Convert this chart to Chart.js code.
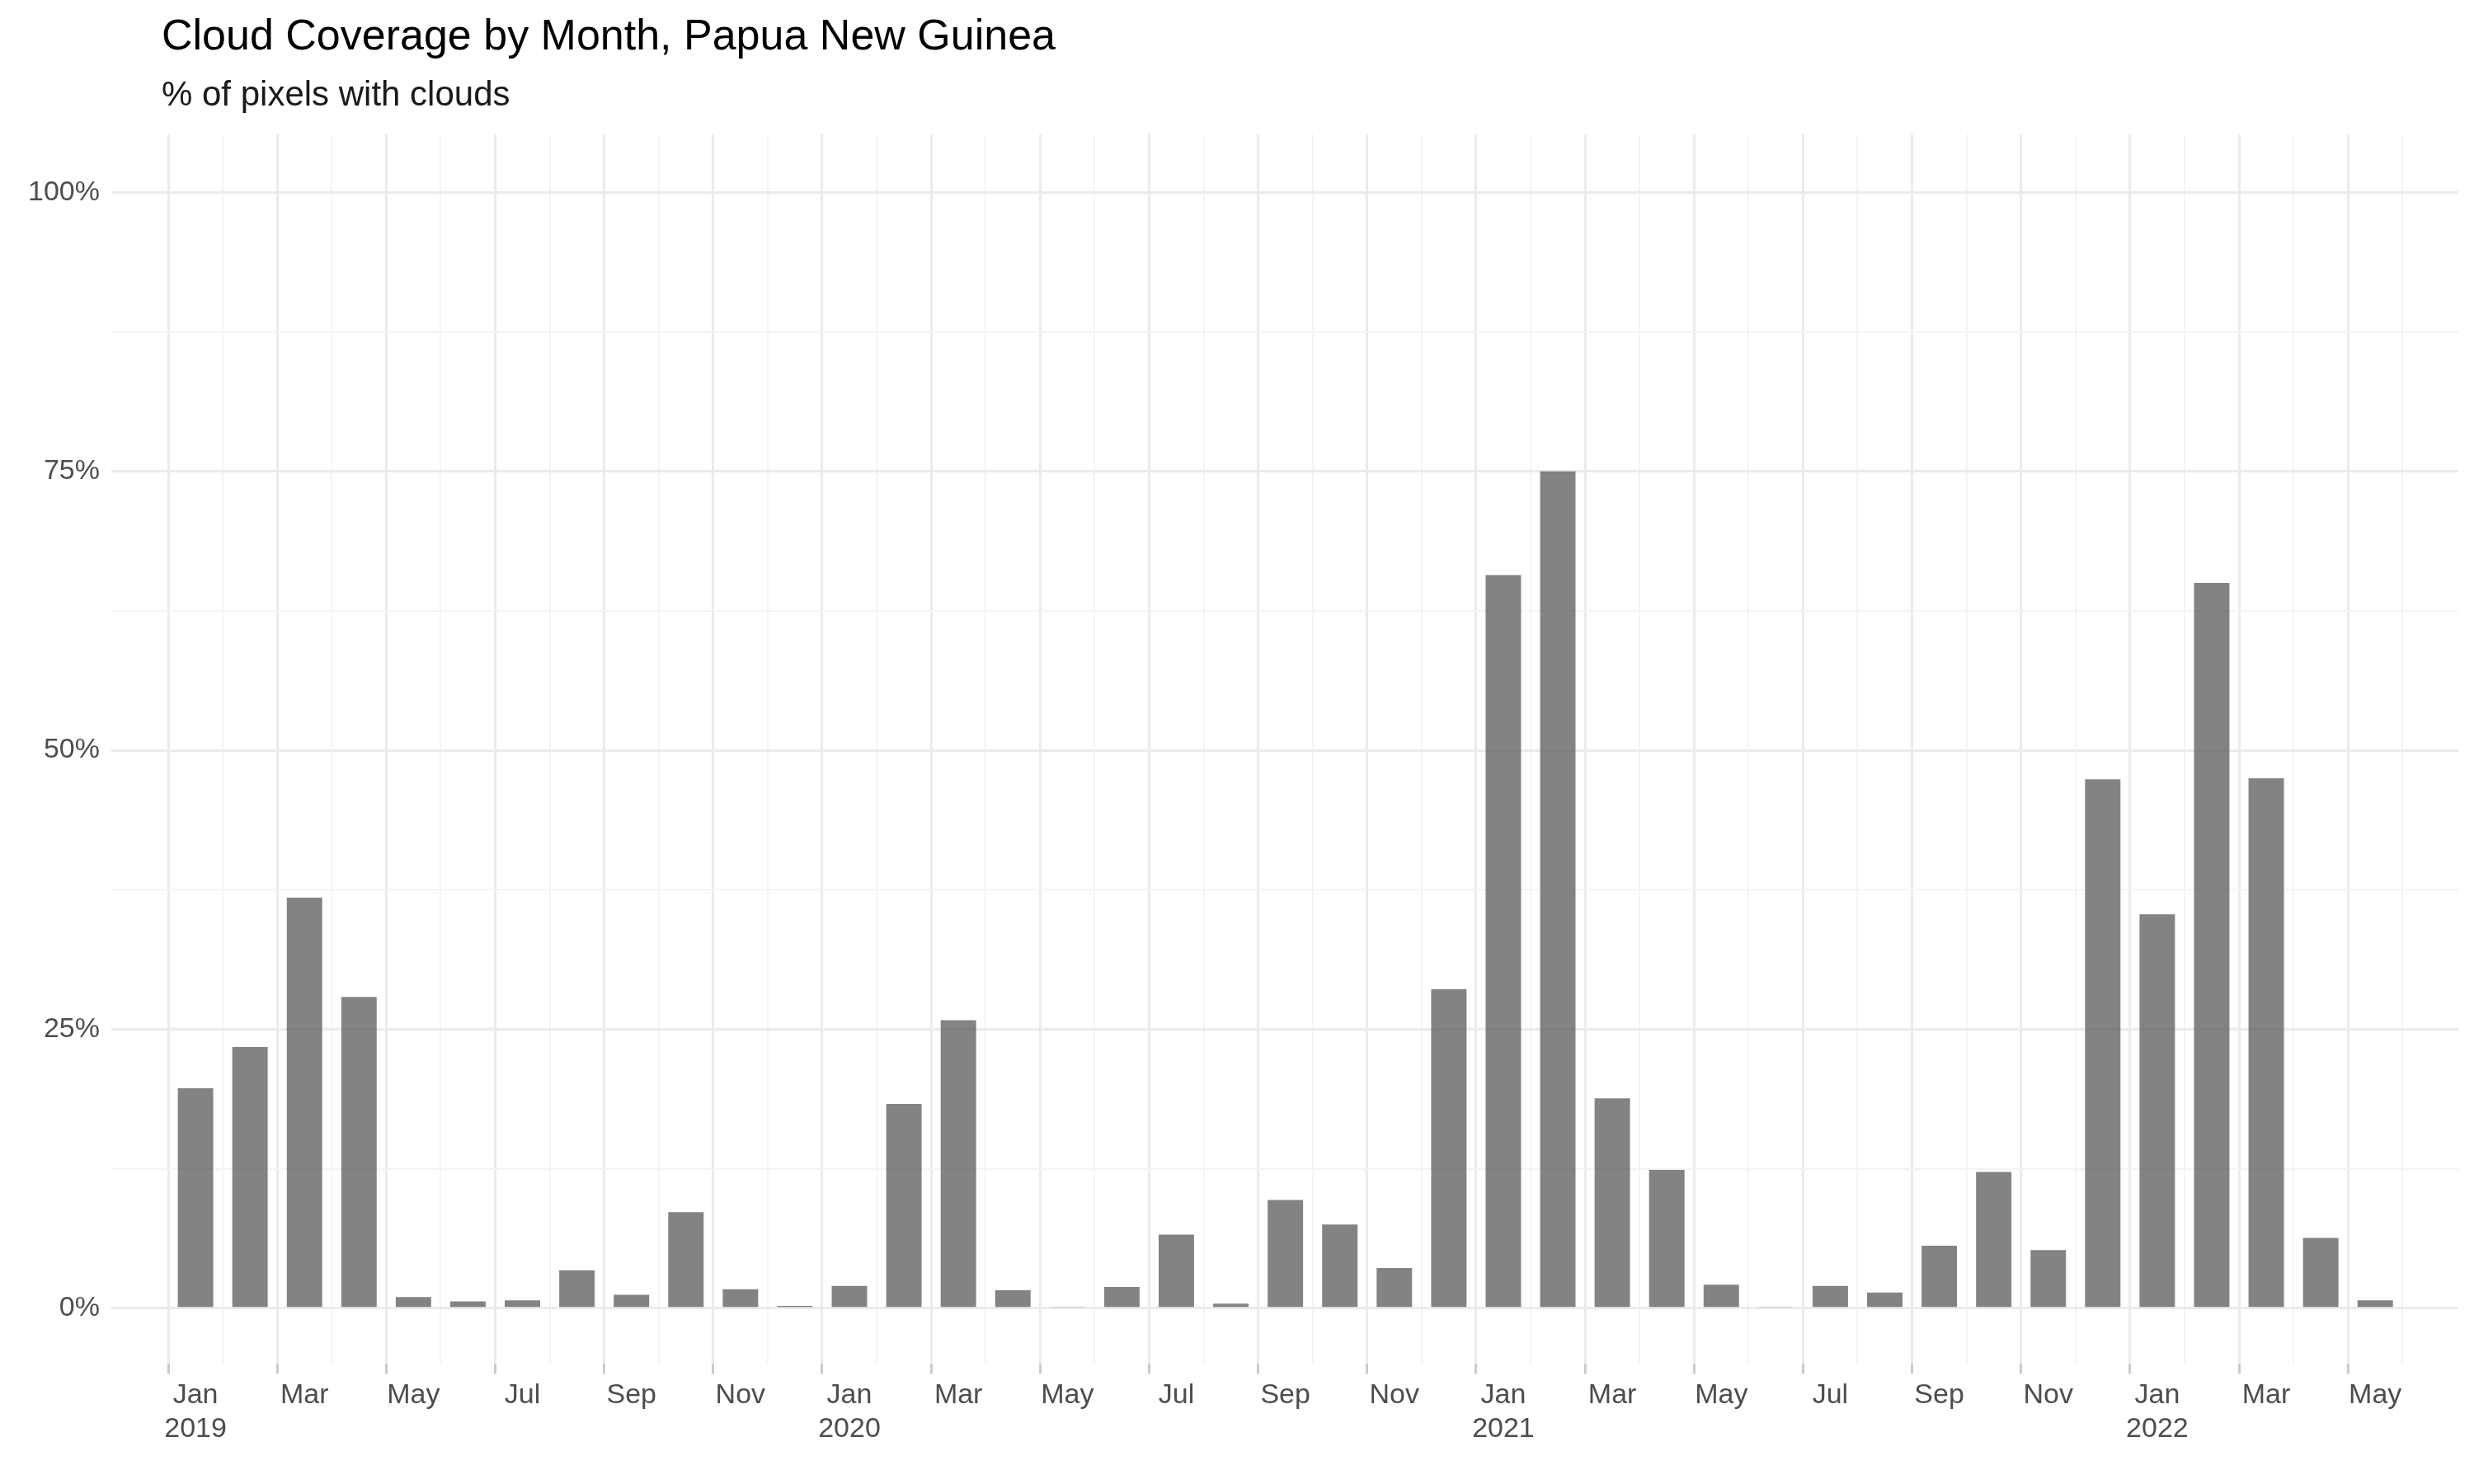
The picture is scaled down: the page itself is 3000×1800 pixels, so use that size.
<!DOCTYPE html>
<html>
<head>
<meta charset="utf-8">
<script src="https://cdn.jsdelivr.net/npm/chart.js@4"></script>
<style>
  html, body { margin: 0; padding: 0; background: #fff; }
  #wrap { width: 3000px; height: 1800px; position: relative; }
  .title { position: absolute; left: 196px; font-family: "Liberation Sans", Arial, sans-serif; color: #000; }
  #t1 { top: 12px; font-size: 52px; }
  #t2 { top: 90px; font-size: 42px; color: #1a1a1a; }
  #c { position: absolute; left: 0; top: 0; }
</style>
</head>
<body>
<div id="wrap">
  <canvas id="c" width="3000" height="1800"></canvas>
  <div class="title" id="t1">Cloud Coverage by Month, Papua New Guinea</div>
  <div class="title" id="t2">% of pixels with clouds</div>
</div>
<script>
const monthNames = ["Jan", "Feb", "Mar", "Apr", "May", "Jun", "Jul", "Aug", "Sep", "Oct", "Nov", "Dec"];
const startYear = 2019;
// monthly cloud coverage (%), Jan 2019 .. May 2022
const values2019 = [19.7, 23.4, 36.8, 27.9, 1.0, 0.6, 0.7, 3.4, 1.2, 8.6, 1.7, 0.2];
const values2020 = [2.0, 18.3, 25.8, 1.6, 0.1, 1.9, 6.6, 0.4, 9.7, 7.5, 3.6, 28.6];
const values2021 = [65.7, 75.0, 18.8, 12.4, 2.1, 0.1, 2.0, 1.4, 5.6, 12.2, 5.2, 47.4];
const values2022 = [35.3, 65.0, 47.5, 6.3, 0.7];
const yTicks = [0, 12.5, 25, 37.5, 50, 62.5, 75, 87.5, 100];

const coverage = values2019.concat(values2020, values2021, values2022);
const points = coverage.map((v, i) => ({ x: i, y: v }));

const tickFont = { family: "'Liberation Sans', Arial, sans-serif", size: 34 };

new Chart(document.getElementById("c"), {
  type: "bar",
  data: {
    datasets: [{
      data: points,
      backgroundColor: "rgba(89,89,89,0.75)",
      barPercentage: 0.65,
      categoryPercentage: 1.0
    }]
  },
  options: {
    responsive: false,
    animation: false,
    layout: { padding: { left: 20, right: 19, top: 163, bottom: 40 } },
    plugins: { legend: { display: false }, tooltip: { enabled: false } },
    scales: {
      x: {
        type: "linear",
        min: -1.02,
        max: 41,
        afterBuildTicks: (axis) => {
          axis.ticks = coverage.map((v, i) => ({ value: i }));
        },
        border: { display: false },
        grid: {
          color: (ctx) => (ctx.index % 2 === 0 ? "#ebebeb" : "#f4f4f4"),
          lineWidth: (ctx) => (ctx.index % 2 === 0 ? 3 : 2),
          drawTicks: true,
          tickLength: 12,
          tickColor: (ctx) => (ctx.index % 2 === 0 ? "#cccccc" : "rgba(0,0,0,0)")
        },
        ticks: {
          autoSkip: false,
          maxRotation: 0,
          color: "#4d4d4d",
          font: tickFont,
          padding: 6,
          callback: (val) => {
            if (val % 2 !== 0) return "";
            const m = val % 12;
            const name = monthNames[m];
            return m === 0 ? [name, String(startYear + val / 12)] : name;
          }
        }
      },
      y: {
        min: -5,
        max: 105.2,
        afterBuildTicks: (axis) => {
          axis.ticks = yTicks.map((v) => ({ value: v }));
        },
        border: { display: false },
        grid: {
          color: (ctx) => (ctx.tick && ctx.tick.value % 25 === 0 ? "#ebebeb" : "#f4f4f4"),
          lineWidth: (ctx) => (ctx.tick && ctx.tick.value % 25 === 0 ? 3 : 2),
          drawTicks: false
        },
        ticks: {
          color: "#4d4d4d",
          font: tickFont,
          padding: 14,
          callback: (val) => (val % 25 === 0 ? val + "%" : "")
        }
      }
    }
  }
});
</script>
</body>
</html>
